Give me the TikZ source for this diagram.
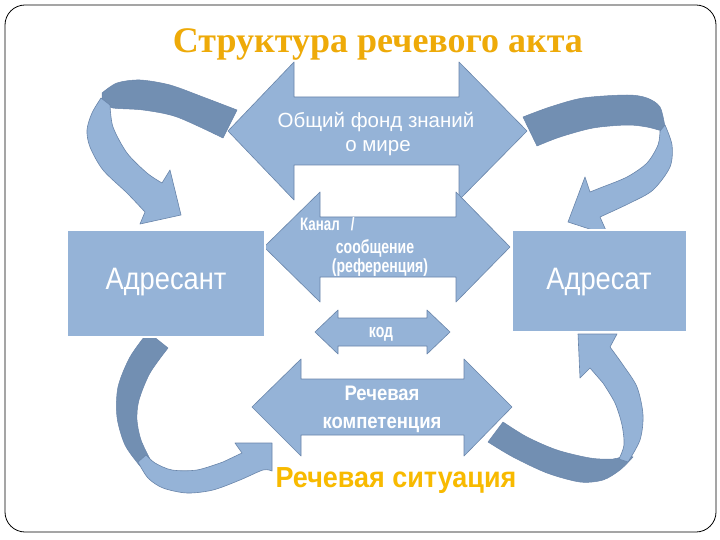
\documentclass[tikz,border=0pt]{standalone}
\usepackage{fontspec}
\setmainfont{Liberation Serif}
\newfontfamily\sansreg{Liberation Sans}
\newfontfamily\boxfont[FakeStretch=0.88]{Liberation Sans}
\newfontfamily\narrowA[FakeStretch=0.74]{Liberation Sans}
\newfontfamily\narrowB[FakeStretch=0.88]{Liberation Sans}
\newfontfamily\narrowC[FakeStretch=0.93]{Liberation Sans}
\definecolor{lblue}{RGB}{149,179,215}
\definecolor{dblue}{RGB}{114,143,178}
\definecolor{edge}{RGB}{105,133,170}
\definecolor{gold}{RGB}{238,170,8}
\definecolor{gold2}{RGB}{248,186,0}
\begin{document}
\begin{tikzpicture}[x=1pt,y=-1pt,
  lt/.style={fill=lblue, draw=edge, line width=0.6pt, line join=round},
  dk/.style={fill=dblue, draw=edge, line width=0.5pt, line join=round},
  box/.style={fill=lblue, draw=white, line width=1.5pt},
  wt/.style={text=white, inner sep=0pt, anchor=base},
]
\useasboundingbox (0,0) rectangle (720,540);
\fill[white] (0,0) rectangle (720,540);
\draw[black, line width=0.8pt, rounded corners=20pt] (5,5) rectangle (716,532);

% title
\node[text=gold, inner sep=0pt, anchor=base, font=\bfseries\fontsize{36}{42}\selectfont] (title) at (378,53) {Структура речевого акта};

% ---- curved arrows ----
% top-left
\path[dk] plot[smooth] coordinates {(102,93) (117,83) (140,80) (170,85) (203,97) (237,110)}
  -- plot[smooth] coordinates {(223,138) (177,117) (143,110) (113,108) (102,103)} -- cycle;
\path[lt] plot[smooth] coordinates {(101,98) (92,113) (87,130) (90,147) (103,170) (127,193) (145,212)}
  -- (140,224) -- (181,215) -- (170,170)
  -- plot[smooth] coordinates {(162,183) (147,173) (127,153) (113,127) (110,105)} -- cycle;
% top-right
\path[dk] plot[smooth] coordinates {(523,117) (550,107) (583,98) (627,95) (647,98) (660,107) (665,127)}
  -- plot[smooth] coordinates {(662,131) (647,127) (627,125) (593,128) (560,137) (537,146)} -- cycle;
\path[lt] plot[smooth] coordinates {(665,125) (672,145) (670,167) (653,190) (630,203) (600,217)}
  -- (608,235) -- (568,222) -- (585,177)
  -- plot[smooth] coordinates {(590,192) (600,188) (627,177) (647,163) (658,145) (660,131)} -- cycle;
% bottom-left
\path[dk] plot[smooth] coordinates {(148,332) (130,357) (118,387) (117,417) (125,445) (140,466)}
  -- plot[smooth] coordinates {(150,459) (141,440) (137,420) (139,400) (150,373) (168,348)} -- cycle;
\path[lt] plot[smooth] coordinates {(138,462) (148,478) (163,488) (187,493) (213,490) (240,480) (263,470) (272,471)}
  -- (272,443) -- (235,443) -- (242,453)
  -- plot[smooth] coordinates {(223,462) (197,470) (172,470) (155,463) (146,455)} -- cycle;
% bottom-right
\path[dk] plot[smooth] coordinates {(503,422) (527,437) (557,450) (590,458) (613,459) (627,455)}
  -- plot[smooth] coordinates {(633,457) (620,470) (603,480) (580,482) (547,473) (513,457) (488,442)} -- cycle;
\path[lt] plot[smooth] coordinates {(628,462) (640,440) (643,415) (637,387) (623,365) (610,347)}
  -- (617,334) -- (578,334) -- (580,378) -- (590,368)
  -- plot[smooth] coordinates {(603,383) (615,403) (622,425) (624,445) (619,459)} -- cycle;

% ---- double arrows ----
\path[lt] (228,131) -- (294,62) -- (294,97) -- (459,97) -- (459,62) -- (527,131)
  -- (459,200) -- (459,165) -- (294,165) -- (294,200) -- cycle;
\path[lt] (264,247) -- (320,192) -- (320,217) -- (456,217) -- (456,192) -- (510,247)
  -- (456,302) -- (456,277) -- (320,277) -- (320,302) -- cycle;
\path[lt] (315,332) -- (338,310) -- (338,318) -- (427,318) -- (427,310) -- (450,332)
  -- (427,354) -- (427,346) -- (338,346) -- (338,354) -- cycle;
\path[lt] (252,407) -- (301,359) -- (301,379) -- (464,379) -- (464,359) -- (512,407)
  -- (464,456) -- (464,435) -- (301,435) -- (301,456) -- cycle;

% ---- boxes ----
\path[box] (67,230) rectangle (265,337);
\path[box] (512,230) rectangle (687,332);
\node[wt, font=\boxfont\fontsize{31}{36}\selectfont] (adresant) at (166,289) {Адресант};
\node[wt, font=\boxfont\fontsize{31}{36}\selectfont] (adresat) at (599,289) {Адресат};

% ---- texts ----
\node[wt, font=\sansreg\fontsize{20.5}{24}\selectfont] (fond1) at (376,128) {Общий фонд знаний};
\node[wt, font=\sansreg\fontsize{20.5}{24}\selectfont] (fond2) at (378,152) {о мире};
\node[wt, anchor=base west, font=\narrowA\bfseries\fontsize{18}{22}\selectfont] (kanal) at (300,230) {Канал\ \ \ /};
\node[wt, font=\narrowA\bfseries\fontsize{19}{22}\selectfont] (soob) at (375,253) {сообщение};
\node[wt, font=\narrowA\bfseries\fontsize{19}{22}\selectfont] (ref) at (380,272) {(референция)};
\node[wt, font=\narrowA\bfseries\fontsize{19}{22}\selectfont] (kod) at (381,337) {код};
\node[wt, font=\narrowB\bfseries\fontsize{21}{24}\selectfont] (rech1) at (382,400) {Речевая};
\node[wt, font=\narrowB\bfseries\fontsize{21}{24}\selectfont] (rech2) at (382,428) {компетенция};
\node[text=gold2, inner sep=0pt, anchor=base, font=\narrowC\bfseries\fontsize{29}{34}\selectfont] (sit) at (396,487) {Речевая ситуация};
\end{tikzpicture}
\end{document}
